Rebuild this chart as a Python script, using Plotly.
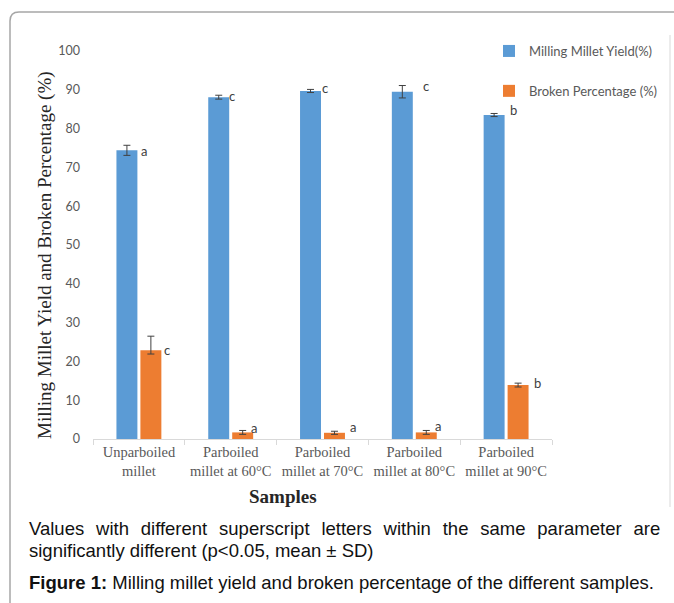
import plotly.graph_objects as go

# ---- data ----
categories = ["Unparboiled<br>millet", "Parboiled<br>millet at 60°C", "Parboiled<br>millet at 70°C",
              "Parboiled<br>millet at 80°C", "Parboiled<br>millet at 90°C"]
yield_vals = [74.4, 88.1, 89.7, 89.5, 83.5]
yield_sd_up = [1.3, 0.5, 0.4, 1.6, 0.4]
yield_sd_dn = [1.3, 0.5, 0.4, 1.6, 0.4]
yield_letters = ["a", "c", "c", "c", "b"]
broken_vals = [22.9, 1.7, 1.6, 1.7, 13.9]
broken_sd_up = [3.6, 0.5, 0.4, 0.5, 0.5]
broken_sd_dn = [1.0, 0.5, 0.4, 0.5, 0.5]
broken_letters = ["c", "a", "a", "a", "b"]
yticks = list(range(0, 101, 10))

# ---- styling ----
W, H = 674, 603
L, R, T, B = 93, 552, 51, 439   # plot area in pixels
BLUE, ORANGE = "#5b9bd5", "#ed7d31"
GREY_TXT = "#595959"
SANS = "Lato, Liberation Sans, sans-serif"
SERIF = "Liberation Serif, Times New Roman, serif"
CAP = "Liberation Sans, Arial, sans-serif"

def px(xp):
    return (xp - L) / (R - L)

def py(yp):
    return (B - yp) / (B - T)

# letter offsets (px) relative to the category centre and bar top
yield_dx = [0, -4, -3, 7, 2]
yield_dy = [-1, 1, 3, 6, 5]
broken_dx = [23, 18, 25, 19, 26]
broken_dy = [0, 4, 6, 6, 2]

fig = go.Figure()
fig.add_trace(go.Bar(
    x=categories, y=yield_vals, name="Milling Millet Yield(%)",
    marker=dict(color=BLUE, line=dict(width=0)),
    error_y=dict(type="data", symmetric=False, array=yield_sd_up, arrayminus=yield_sd_dn,
                 color="#404040", thickness=1, width=3.5),
    legendgroup="g1", hoverinfo="skip",
))
fig.add_trace(go.Bar(
    x=categories, y=broken_vals, name="Broken Percentage (%)",
    marker=dict(color=ORANGE, line=dict(width=0)),
    error_y=dict(type="data", symmetric=False, array=broken_sd_up, arrayminus=broken_sd_dn,
                 color="#404040", thickness=1, width=3.5),
    legendgroup="g2", hoverinfo="skip",
))

annotations = []
for i, c in enumerate(categories):
    annotations.append(dict(x=c, y=yield_vals[i], xref="x", yref="y", text=yield_letters[i],
                            showarrow=False, xanchor="left", yanchor="middle",
                            xshift=yield_dx[i], yshift=yield_dy[i],
                            font=dict(family=SANS, size=13, color="#404040")))
    annotations.append(dict(x=c, y=broken_vals[i], xref="x", yref="y", text=broken_letters[i],
                            showarrow=False, xanchor="left", yanchor="middle",
                            xshift=broken_dx[i], yshift=broken_dy[i],
                            font=dict(family=SANS, size=13, color="#404040")))

# axis titles
annotations.append(dict(x=px(283), y=py(497), xref="paper", yref="paper", text="<b>Samples</b>",
                        showarrow=False, xanchor="center", yanchor="middle",
                        font=dict(family=SERIF, size=19, color="#262626")))
annotations.append(dict(x=px(45), y=py(255), xref="paper", yref="paper",
                        text="Milling Millet Yield and Broken Percentage (%)", textangle=-90,
                        showarrow=False, xanchor="center", yanchor="middle",
                        font=dict(family=SERIF, size=19, color="#262626")))
# caption (first line justified by evenly widened word gaps)
line1_words = ["Values", "with", "different", "superscript", "letters", "within", "the", "same",
               "parameter", "are"]
line1 = " &nbsp;&#8202;".join(line1_words)
annotations.append(dict(x=px(27), y=py(528), xref="paper", yref="paper", text=line1,
                        showarrow=False, xanchor="left", yanchor="middle",
                        font=dict(family=CAP, size=18.5, color="#111111")))
annotations.append(dict(x=px(27), y=py(550), xref="paper", yref="paper",
                        text="significantly different (p<0.05, mean ± SD)",
                        showarrow=False, xanchor="left", yanchor="middle",
                        font=dict(family=CAP, size=18.5, color="#111111")))
annotations.append(dict(x=px(27), y=py(582), xref="paper", yref="paper",
                        text="<b>Figure 1:</b> Milling millet yield and broken percentage of the different samples.",
                        showarrow=False, xanchor="left", yanchor="middle",
                        font=dict(family=CAP, size=18.5, color="#111111")))

# frame decoration
r = 9
x0, y0 = px(10), py(12)
xr, yb = px(700), py(640)
frame_path = (f"M {x0},{yb} L {x0},{py(12 + r)} Q {x0},{y0} {px(10 + r)},{y0} L {xr},{y0}")
shapes = [
    dict(type="path", path=frame_path, xref="paper", yref="paper",
         line=dict(color="#a6a6a6", width=1.5)),
    dict(type="line", x0=px(670), x1=px(670), y0=py(35), y1=py(507), xref="paper", yref="paper",
         line=dict(color="#d9d9d9", width=1)),
]

fig.update_layout(
    width=W, height=H, autosize=False,
    margin=dict(l=L, r=W - R, t=T, b=H - B, pad=0, autoexpand=False),
    paper_bgcolor="white", plot_bgcolor="white",
    barmode="group", bargap=0.478, bargroupgap=0.125,
    showlegend=True,
    legend=dict(x=489 / W, y=1 - 36 / H, xref="container", yref="container",
                xanchor="left", yanchor="top", orientation="v",
                font=dict(family=SANS, size=13, color=GREY_TXT),
                tracegroupgap=20, bgcolor="rgba(0,0,0,0)", itemclick=False),
    annotations=annotations, shapes=shapes,
    xaxis=dict(showline=True, linecolor="#d9d9d9", linewidth=1, ticks="outside",
               tickson="boundaries", ticklen=5, tickcolor="#d9d9d9", showgrid=False,
               tickangle=0, automargin=False,
               tickfont=dict(family=SERIF, size=14.5, color=GREY_TXT), zeroline=False),
    yaxis=dict(range=[0, 100], tickvals=yticks, showgrid=False, showline=False, zeroline=False,
               ticks="", ticklabelstandoff=12, automargin=False,
               tickfont=dict(family=SANS, size=12.5, color=GREY_TXT)),
)

fig.write_html("out.html", config={"displayModeBar": False},
               post_script="document.body.style.margin='0';document.body.style.overflow='hidden';")
